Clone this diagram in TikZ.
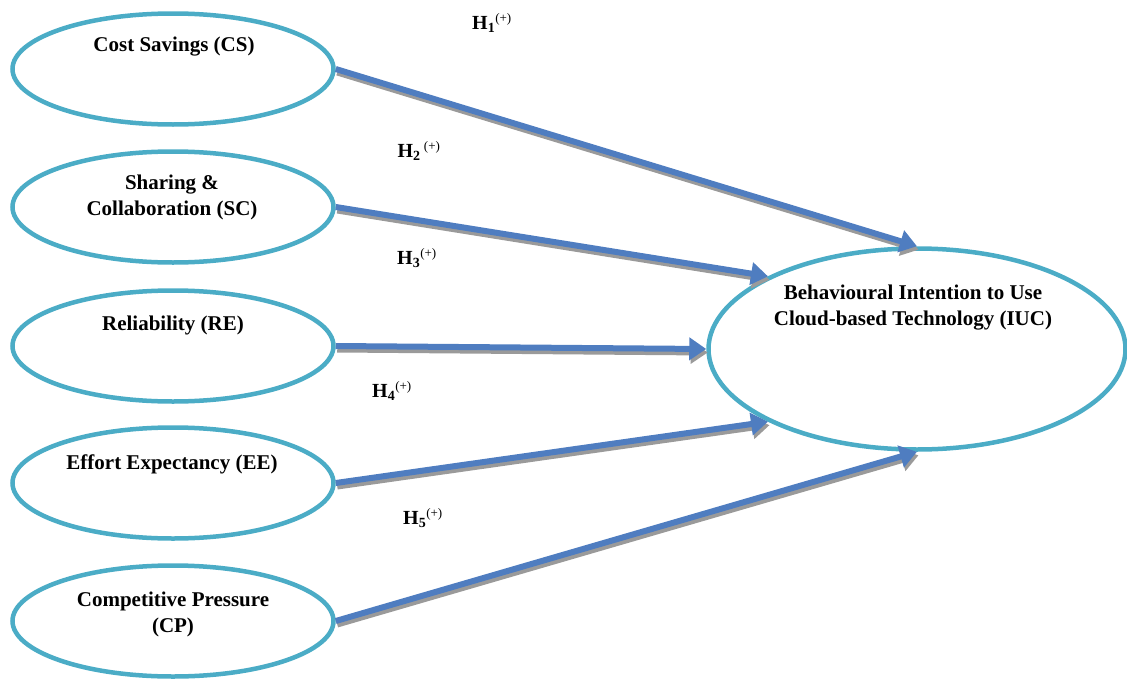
\documentclass[tikz,border=0pt]{standalone}
\usepackage{fontspec}
\setmainfont{Liberation Serif}
\usetikzlibrary{shapes.geometric,arrows.meta}
\definecolor{ringc}{HTML}{4BACC6}
\definecolor{arrc}{HTML}{4F7DC0}
\definecolor{shadc}{HTML}{9A9A9A}
\tikzset{
  oval/.style={ellipse, draw=ringc, line width=4.5pt, fill=white, inner sep=0pt},
  small/.style={oval, minimum width=321pt, minimum height=111pt},
  big/.style={oval, minimum width=417pt, minimum height=201pt},
  lbl/.style={font=\fontsize{21}{26}\selectfont\bfseries, align=center, inner sep=0pt},
  hyp/.style={font=\fontsize{20}{22}\selectfont\bfseries, inner sep=0pt},
  link/.style={line width=6pt, arrc, -{Triangle[length=17pt,width=22pt]}},
  linkshadow/.style={line width=6pt, shadc, -{Triangle[length=17pt,width=22pt]}, transform canvas={xshift=1.5pt,yshift=-3.5pt}}
}
\newcommand{\hsup}[1]{\textsuperscript{\fontsize{13}{14}\selectfont\mdseries #1}}
\begin{document}
\begin{tikzpicture}[x=1pt,y=-1pt]
\useasboundingbox (0,0) rectangle (1127,680);
\node[small] (cs) at (173,69) {};
\node[small] (sc) at (173,207) {};
\node[small] (re) at (173,346) {};
\node[small] (ee) at (173,483) {};
\node[small] (cp) at (173,621) {};
\node[big] (iuc) at (917,349) {};

\node[lbl] (tcs) at (174,47) {Cost Savings (CS)};
\node[lbl] (tsc) at (172,197) {Sharing \&\\Collaboration (SC)};
\node[lbl] (tre) at (173,325) {Reliability (RE)};
\node[lbl] (tee) at (172,464) {Effort Expectancy (EE)};
\node[lbl] (tcp) at (173,614) {Competitive Pressure\\(CP)};
\node[lbl] (tiuc) at (913,308) {Behavioural Intention to Use\\Cloud-based Technology (IUC)};

\coordinate (e1) at (iuc.north);
\coordinate (e2) at (iuc.154);
\coordinate (e3) at (iuc.west);
\coordinate (e4) at (iuc.206);
\coordinate (e5) at (iuc.south);

\foreach \s/\e in {cs/e1, sc/e2, re/e3, ee/e4, cp/e5}{
  \draw[linkshadow] (\s.east) -- (\e);
}
\foreach \s/\e in {cs/e1, sc/e2, re/e3, ee/e4, cp/e5}{
  \draw[link] (\s.east) -- (\e);
}

\node[hyp] (h1) at (492,23) {H\textsubscript{1}\hsup{(+)}};
\node[hyp] (h2) at (419,151) {H\textsubscript{2}\,\hsup{(+)}};
\node[hyp] (h3) at (417,258) {H\textsubscript{3}\hsup{(+)}};
\node[hyp] (h4) at (392,391) {H\textsubscript{4}\hsup{(+)}};
\node[hyp] (h5) at (423,518) {H\textsubscript{5}\hsup{(+)}};
\end{tikzpicture}
\end{document}
